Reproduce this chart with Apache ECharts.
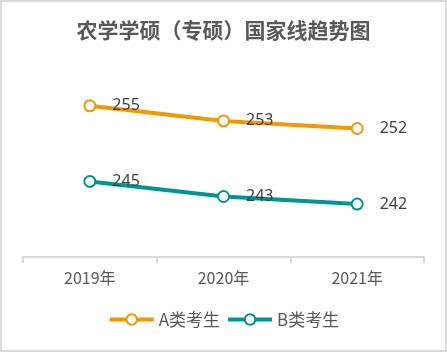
<!DOCTYPE html>
<html>
<head>
<meta charset="utf-8">
<script src="https://cdn.jsdelivr.net/npm/echarts@6/dist/echarts.min.js"></script>
<style>
  html, body { margin: 0; padding: 0; background: #fff; }
  #chart { width: 447px; height: 352px; }
</style>
</head>
<body>
<div id="chart"></div>
<script>
// 国家线数据
var years = ['2019年', '2020年', '2021年'];
var scoreA = [255, 253, 252];
var scoreB = [245, 243, 242];

var chart = echarts.init(document.getElementById('chart'));

var option = {
    backgroundColor: '#fff',
    graphic: [{
        type: 'rect',
        shape: { x: 1, y: 1, width: 445, height: 350 },
        style: { fill: 'none', stroke: '#d9d9d9', lineWidth: 2 },
        silent: true
    }],
    title: {
        text: '农学学硕（专硕）国家线趋势图',
        left: 'center',
        top: 15,
        textStyle: {
            fontFamily: 'Noto Sans CJK SC',
            fontSize: 21,
            fontWeight: 'bold',
            color: '#595959'
        }
    },
    legend: {
        bottom: 19,
        left: 'center',
        itemWidth: 44,
        itemHeight: 13,
        itemGap: 6,
        lineStyle: { width: 4 },
        textStyle: {
            fontFamily: 'Noto Sans CJK SC',
            fontSize: 17,
            color: '#595959'
        },
        data: ['A类考生', 'B类考生']
    },
    grid: {
        left: 23,
        right: 23,
        top: 68,
        bottom: 95
    },
    xAxis: {
        type: 'category',
        data: years,
        boundaryGap: true,
        axisLine: { lineStyle: { color: '#d9d9d9', width: 2 } },
        axisTick: { show: true, length: 6, lineStyle: { color: '#d9d9d9', width: 2 } },
        axisLabel: {
            margin: 13,
            fontFamily: 'Noto Sans CJK SC',
            fontSize: 16,
            color: '#595959'
        }
    },
    yAxis: {
        type: 'value',
        min: 235,
        max: 260,
        show: false
    },
    series: [
        {
            name: 'A类考生',
            type: 'line',
            data: scoreA,
            symbol: 'emptyCircle',
            symbolSize: 11,
            color: '#f39800',
            lineStyle: { width: 4 },
            itemStyle: { borderWidth: 3.5 },
            label: {
                show: true,
                position: 'right',
                distance: 16,
                fontFamily: 'Noto Sans',
                fontSize: 16,
                color: '#404040'
            }
        },
        {
            name: 'B类考生',
            type: 'line',
            data: scoreB,
            symbol: 'emptyCircle',
            symbolSize: 11,
            color: '#009494',
            lineStyle: { width: 4 },
            itemStyle: { borderWidth: 3.5 },
            label: {
                show: true,
                position: 'right',
                distance: 16,
                fontFamily: 'Noto Sans',
                fontSize: 16,
                color: '#404040'
            }
        }
    ]
};

chart.setOption(option);
</script>
</body>
</html>
